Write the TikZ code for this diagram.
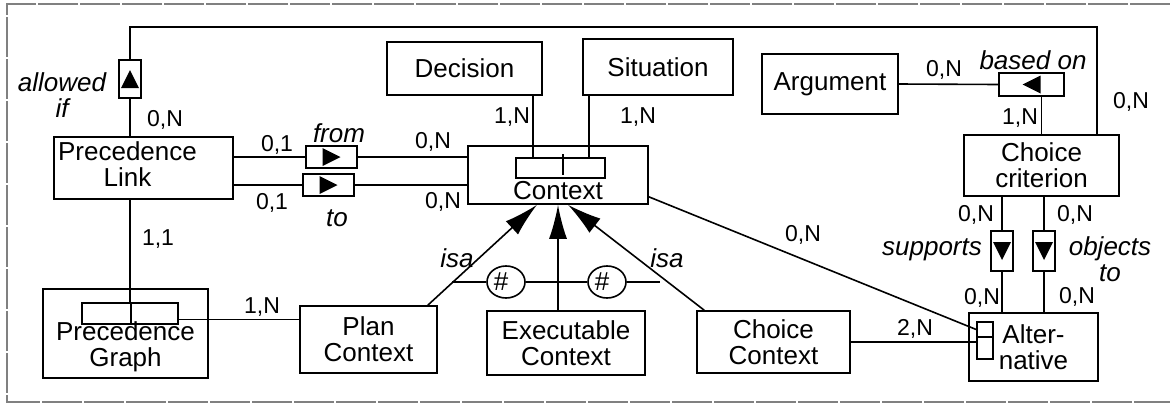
\documentclass[tikz,border=0pt]{standalone}
\usepackage{fontspec}
\setmainfont{Liberation Sans}
\usetikzlibrary{arrows.meta,shapes.geometric}

\newcommand{\cardfont}{\fontsize{23}{23}\selectfont}
\newcommand{\rolefont}{\fontsize{26}{26}\selectfont\itshape}

\tikzset{
  entity/.style={draw, line width=1.6pt, align=center, inner sep=0pt},
  keybox/.style={draw, line width=1.6pt, inner sep=0pt},
  relbox/.style={draw, line width=1.6pt, inner sep=0pt, fill=white},
  card/.style={font=\cardfont, inner sep=0pt},
  role/.style={font=\rolefont, inner sep=0pt, align=center},
  disj/.style={draw, ellipse, fill=white, line width=1.6pt, inner sep=0pt, minimum width=38pt, minimum height=32pt},
  isa/.style={-{Latex[length=34pt,width=18pt]}, line width=1.6pt},
  outerframe/.style={draw=gray, line width=2pt, dash pattern=on 40pt off 2pt}
}

\begin{document}
\begin{tikzpicture}[x=1pt,y=-1pt,line width=1.6pt,font=\fontsize{26}{26}\selectfont]
\useasboundingbox (0,0) rectangle (1170,405);

% frame
\draw[outerframe] (1170,4) -- (7,4) -- (7,402) -- (1170,402);

% entities
\node[entity, minimum width=179pt, minimum height=62pt] (plink) at (143.5,168) {\begin{tabular}{@{}c@{}}Precedence\\Link\end{tabular}\hspace*{32pt}};
\node[entity, minimum width=165pt, minimum height=89pt, label={[align=center,yshift=-13pt]center:{Precedence\\Graph}}] (pgraph) at (125.5,333.5) {};
\node[entity, minimum width=180pt, minimum height=58pt, label={[yshift=-16pt]center:Context}] (ctx) at (558,175) {};
\node[entity, minimum width=155pt, minimum height=53pt] (dec) at (464.5,68.5) {Decision};
\node[entity, minimum width=150pt, minimum height=56pt] (sit) at (658,67) {Situation};
\node[entity, minimum width=136pt, minimum height=60pt] (arg) at (830,84) {Argument};
\node[entity, minimum width=155pt, minimum height=61pt] (crit) at (1041.5,165.5) {Choice\\criterion};
\node[entity, minimum width=129pt, minimum height=68pt] (alt) at (1033.5,347) {Alter-\\native};
\node[entity, minimum width=137pt, minimum height=67pt] (plan) at (368.5,339.5) {Plan\\Context};
\node[entity, minimum width=158pt, minimum height=64pt] (exec) at (566,343) {Executable\\Context};
\node[entity, minimum width=153pt, minimum height=62pt] (chctx) at (773.5,342) {Choice\\Context};

% key boxes
\node[keybox, minimum width=96pt, minimum height=21pt] (pgkey) at (130,313.5) {};
\node[keybox, minimum width=89pt, minimum height=20pt] (ctxkey) at (560.5,168) {};
\node[keybox, minimum width=16pt, minimum height=15pt] (altk1) at (985,329.5) {};
\node[keybox, minimum width=16pt, minimum height=22pt] (altk2) at (985,348) {};
\draw ([xshift=1pt]pgkey.north) -- ([xshift=1pt]pgkey.south);
\draw ([xshift=2.5pt,yshift=3pt]ctxkey.north) -- ([xshift=2.5pt,yshift=4pt]ctxkey.south);

% relationships
\node[relbox, minimum width=51pt, minimum height=22pt] (frombox) at (331.5,157) {};
\node[relbox, minimum width=51pt, minimum height=22pt] (tobox) at (328.5,185) {};
\node[relbox, minimum width=22pt, minimum height=38pt] (allowed) at (130,79) {};
\node[relbox, minimum width=65pt, minimum height=23pt] (based) at (1031.5,84.5) {};
\node[relbox, minimum width=22pt, minimum height=40pt] (supports) at (1002,251) {};
\node[relbox, minimum width=22pt, minimum height=40pt] (objects) at (1044,251) {};

\foreach \b/\a in {frombox/0, tobox/0, allowed/90, based/180, supports/270, objects/270}
    \fill[shift={(\b.center)}, rotate=\a] (-9,-9) -- (9,0) -- (-9,9) -- cycle;

% connectors
\coordinate (topr) at (1097,27);
\coordinate (decfoot) at ([xshift=-10pt]dec.south east);
\coordinate (sitfoot) at ([xshift=7pt]sit.south west);
\coordinate (ctxfoot) at ([yshift=8pt]ctx.south east);
\coordinate (pgfoot) at ([yshift=-6pt]pgkey.east);

\draw (plink.north -| allowed.south) -- (allowed.south);
\draw (allowed.north) |- (topr) -- (topr |- crit.north);
\draw (plink.south -| pgkey.north) -- (pgkey.north);
\draw (plink.east |- frombox.west) -- (frombox.west);
\draw (frombox.east) -- (frombox.east -| ctx.west);
\draw (plink.east |- tobox.west) -- (tobox.west);
\draw (tobox.east) -- (tobox.east -| ctx.west);
\draw (decfoot) -- (decfoot |- ctxkey.north);
\draw (sitfoot) -- (sitfoot |- ctxkey.north);
\draw (arg.east) -- (based.west);
\draw (crit.north) -- (crit.north |- based.south);
\draw (crit.south -| supports.north) -- (supports.north);
\draw (supports.south) -- (supports.south |- alt.north);
\draw (crit.south -| objects.north) -- (objects.north);
\draw (objects.south) -- (objects.south |- alt.north);
\draw (ctxfoot) -- (altk1.west);
\draw (chctx.east) -- (chctx.east -| altk2.west);
\draw (pgfoot) -- (pgfoot -| plan.west);

% isa
\draw[isa] ([xshift=-10pt]plan.north east) -- ([xshift=-21pt]ctx.south);
\draw[isa] (ctx.south |- exec.north) -- (ctx.south);
\draw[isa] ([xshift=8pt]chctx.north west) -- ([xshift=10pt]ctx.south);

\node[disj] (dis1) at (506,282) {\#\hspace*{10pt}};
\node[disj] (dis2) at (607,282) {\#\hspace*{10pt}};
\draw ([xshift=-54pt]dis1.center) -- (dis1.west);
\draw (dis1.east) -- (dis2.west);
\draw (dis2.east) -- ([xshift=53pt]dis2.center);

% cardinalities
\foreach \x/\y/\t in {165/120/{0,N}, 158/239/{1,1}, 262/307/{1,N}, 277/145/{0,1}, 272/203/{0,1},
    433/142/{0,N}, 443/202/{0,N}, 512/117/{1,N}, 638/117/{1,N}, 944/70/{0,N}, 1020/118/{1,N},
    1131/102/{0,N}, 803/235/{0,N}, 915/329/{2,N}, 976/215/{0,N}, 1075/215/{0,N},
    982/298/{0,N}, 1077/297/{0,N}}
    \node[card] at (\x,\y) {\t};

% role names
\node[role] (rfrom) at (339,133) {from};
\node[role] (rto) at (337,218) {to};
\node[role] (rallowed) at (62,95) {allowed\\if};
\node[role] (rbased) at (1033,60) {based on};
\node[role] (rsupports) at (932,250) {supports};
\node[role] (robjects) at (1110,259) {objects\\to};
\node[role] (risa1) at (457,258) {isa};
\node[role] (risa2) at (667,258) {isa};

\end{tikzpicture}
\end{document}
